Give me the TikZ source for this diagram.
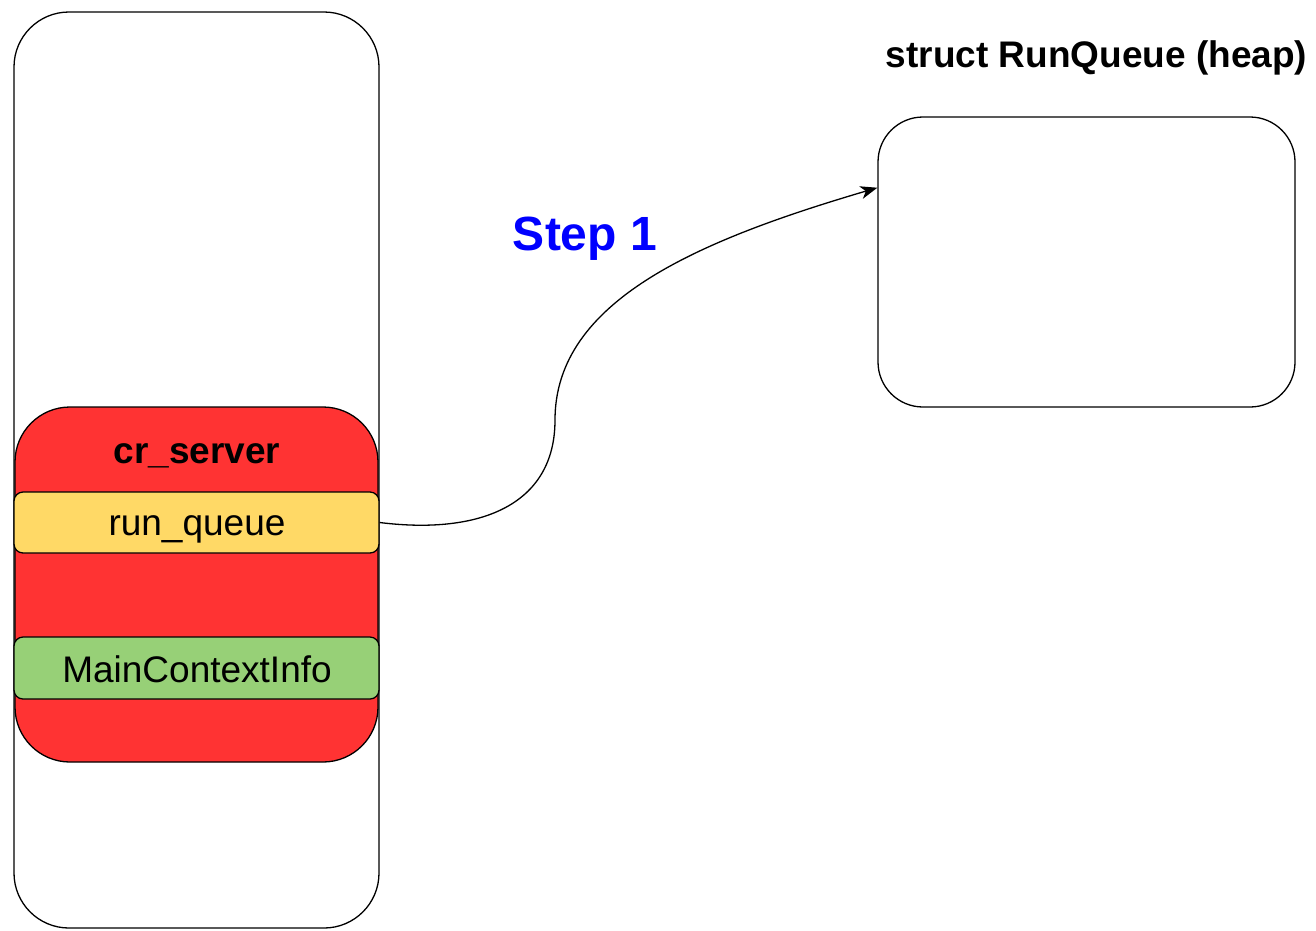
\documentclass[tikz,border=0pt]{standalone}
\usepackage{fontspec}
\setmainfont{Liberation Sans}
\usetikzlibrary{arrows.meta,calc}
\definecolor{boxred}{HTML}{FF3333}
\definecolor{boxyellow}{HTML}{FFD966}
\definecolor{boxgreen}{HTML}{97D077}
\definecolor{steptext}{HTML}{0000FF}
\tikzset{
  frame/.style={draw=black, line width=1.3pt, rounded corners=#1, inner sep=0pt},
  field/.style={frame=9pt, fill=#1, minimum width=365pt, minimum height=61pt},
  txt/.style={font=\fontsize{37}{44}\selectfont, inner sep=0pt, anchor=base},
  btxt/.style={txt, font=\fontsize{37}{44}\selectfont\bfseries},
  link/.style={draw=black, line width=1.3pt, -{Stealth[length=17pt,width=13pt,inset=5pt]}}
}
\begin{document}
\begin{tikzpicture}[x=1pt,y=-1pt]
  \useasboundingbox (0,0) rectangle (1316,930);

  % stack frame holding the server struct
  \node[frame=55pt, fill=white, minimum width=365pt, minimum height=916pt] (stack) at (196.5,470) {};
  \node[frame=55pt, fill=boxred, minimum width=363pt, minimum height=355pt] (server) at (196.5,584.5) {};
  \node[btxt] (servername) at (197,463) {cr\_server};
  \node[field=boxyellow] (runq) at (196.5,522.5) {};
  \node[txt] (runqname) at (197,535) {run\_queue};
  \node[field=boxgreen, minimum height=62pt] (mainctx) at (196.5,668) {};
  \node[txt] (mainctxname) at (197,682) {MainContextInfo};

  % heap allocated run queue
  \node[btxt] (heaptitle) at (1096.5,67) {struct RunQueue (heap)};
  \node[frame=45pt, fill=white, minimum width=417pt, minimum height=290pt] (heap) at (1086.5,262) {};
  \coordinate (heapin) at ($(heap.north west)!0.245!(heap.south west)$);

  % pointer from the field to the heap object
  \node[btxt, text=steptext, font=\fontsize{48}{56}\selectfont\bfseries] (steplabel) at (585,250) {Step 1};
  \draw[link] (runq.east) .. controls (480,535) and (555,505) .. (555,420)
                          .. controls (555,300) and (700,240) .. (heapin);
\end{tikzpicture}
\end{document}
